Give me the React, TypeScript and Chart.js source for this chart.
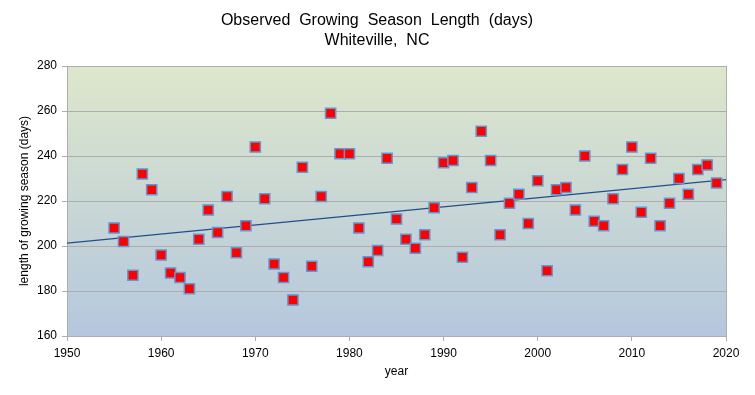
import React, { useEffect, useRef } from "react";
import { Chart, registerables } from "chart.js";

Chart.register(...registerables);

const years: number[] = [
  1955, 1956, 1957, 1958, 1959, 1960, 1961, 1962, 1963, 1964,
  1965, 1966, 1967, 1968, 1969, 1970, 1971, 1972, 1973, 1974,
  1975, 1976, 1977, 1978, 1979, 1980, 1981, 1982, 1983, 1984,
  1985, 1986, 1987, 1988, 1989, 1990, 1991, 1992, 1993, 1994,
  1995, 1996, 1997, 1998, 1999, 2000, 2001, 2002, 2003, 2004,
  2005, 2006, 2007, 2008, 2009, 2010, 2011, 2012, 2013, 2014,
  2015, 2016, 2017, 2018, 2019,
];

const seasonDays: number[] = [
  208, 202, 187, 232, 225, 196, 188, 186, 181, 203,
  216, 206, 222, 197, 209, 244, 221, 192, 186, 176,
  235, 191, 222, 259, 241, 241, 208, 193, 198, 239,
  212, 203, 199, 205, 217, 237, 238, 195, 226, 251,
  238, 205, 219, 223, 210, 229, 189, 225, 226, 216,
  240, 211, 209, 221, 234, 244, 215, 239, 209, 219,
  230, 223, 234, 236, 228,
];

const trendYears: number[] = [1950, 2020];
const trendDays: number[] = [201.3, 229.5];

const xTicks: number[] = [1950, 1960, 1970, 1980, 1990, 2000, 2010, 2020];
const yTicks: number[] = [160, 180, 200, 220, 240, 260, 280];

const titleLines: string[] = ["Observed  Growing  Season  Length  (days)", "Whiteville,  NC"];
const xTitle = "year";
const yTitle = "length of growing season (days)";

const FONT = "'Liberation Sans', Arial, sans-serif";
const GRID = "#adadad";

const bgPlugin = {
  id: "plotBg",
  beforeDraw(chart: any) {
    const { ctx, chartArea } = chart;
    if (!chartArea) return;
    const { left, top, right, bottom } = chartArea;
    const g = ctx.createLinearGradient(0, top, 0, bottom);
    g.addColorStop(0, "#dde7cb");
    g.addColorStop(1, "#b5c7de");
    ctx.save();
    ctx.fillStyle = g;
    ctx.fillRect(left, top, right - left, bottom - top);
    ctx.restore();
  },
  beforeDatasetsDraw(chart: any) {
    const { ctx, chartArea } = chart;
    const { top, right, bottom } = chartArea;
    ctx.save();
    ctx.strokeStyle = GRID;
    ctx.lineWidth = 1;
    ctx.beginPath();
    ctx.moveTo(right + 0.5, top);
    ctx.lineTo(right + 0.5, bottom);
    ctx.stroke();
    ctx.restore();
  },
};

export default function App() {
  const ref = useRef<HTMLCanvasElement>(null);

  useEffect(() => {
    if (!ref.current) return;
    const chart = new Chart(ref.current, {
      type: "scatter",
      data: {
        datasets: [
          {
            label: "trend",
            type: "line",
            data: trendYears.map((x, i) => ({ x, y: trendDays[i] })),
            borderColor: "#1f4e8c",
            borderWidth: 1.3,
            pointRadius: 0,
            fill: false,
            order: 2,
          } as any,
          {
            label: "season",
            data: years.map((x, i) => ({ x, y: seasonDays[i] })),
            pointStyle: "rect",
            pointRadius: 7.2,
            pointBackgroundColor: "#ff0000",
            pointBorderColor: "#5b9bd5",
            pointBorderWidth: 1.5,
            order: 1,
          },
        ],
      },
      options: {
        animation: false,
        responsive: false,
        devicePixelRatio: 1,
        layout: { padding: { left: 0, right: 29, top: 66, bottom: 0 } },
        plugins: {
          legend: { display: false },
          tooltip: { enabled: false },
          title: { display: false },
        },
        scales: {
          x: {
            type: "linear",
            min: 1950,
            max: 2020,
            afterBuildTicks: (s: any) => {
              s.ticks = xTicks.map((v) => ({ value: v }));
            },
            afterFit: (s: any) => {
              s.height = 59;
            },
            grid: {
              drawOnChartArea: false,
              drawTicks: true,
              tickLength: 5,
              color: GRID,
            },
            border: { display: true, color: GRID, width: 1 },
            ticks: {
              padding: 5,
              color: "#000",
              font: { family: FONT, size: 12 },
              callback: (v: any) => String(v),
            },
            title: {
              display: true,
              text: xTitle,
              color: "#000",
              font: { family: FONT, size: 12 },
              padding: { top: 0, bottom: 16 },
            },
          },
          y: {
            type: "linear",
            min: 160,
            max: 280,
            afterBuildTicks: (s: any) => {
              s.ticks = yTicks.map((v) => ({ value: v }));
            },
            afterFit: (s: any) => {
              s.width = 67;
            },
            grid: {
              drawOnChartArea: true,
              drawTicks: true,
              tickLength: 5,
              color: GRID,
            },
            border: { display: true, color: GRID, width: 1 },
            ticks: {
              padding: 5,
              color: "#000",
              font: { family: FONT, size: 12 },
            },
            title: {
              display: true,
              text: yTitle,
              color: "#000",
              font: { family: FONT, size: 12 },
              padding: { top: 17, bottom: 0 },
            },
          },
        },
      },
      plugins: [
        bgPlugin,
        {
          id: "mainTitle",
          afterDraw(chart: any) {
            const { ctx } = chart;
            ctx.save();
            ctx.fillStyle = "#000";
            ctx.font = `16px ${FONT}`;
            ctx.textAlign = "center";
            ctx.textBaseline = "middle";
            const cx = 377;
            ctx.fillText(titleLines[0], cx, 21);
            ctx.fillText(titleLines[1], cx, 41);
            ctx.restore();
          },
        },
      ],
    } as any);
    return () => chart.destroy();
  }, []);

  return (
    <div style={{ position: "fixed", left: 0, top: 0, width: 755, height: 395, background: "#fff" }}>
      <canvas ref={ref} width={755} height={395} style={{ width: 755, height: 395 }} />
    </div>
  );
}
